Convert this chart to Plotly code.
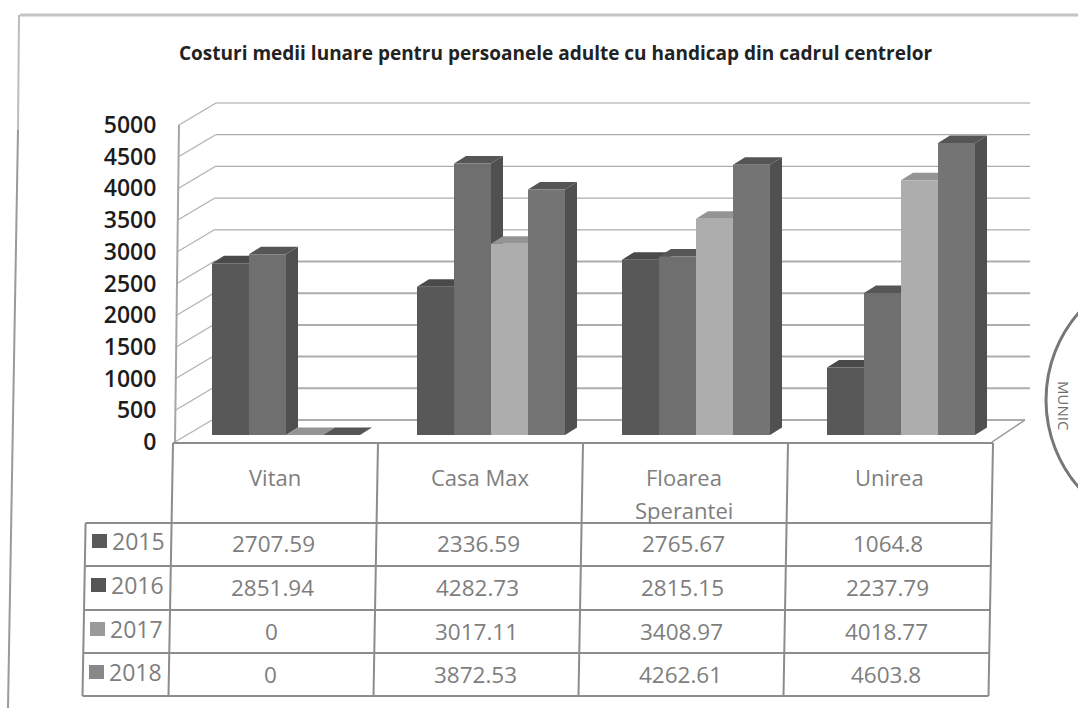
import plotly.graph_objects as go

title = "Costuri medii lunare pentru persoanele adulte cu handicap din cadrul centrelor"
categories = ["Vitan", "Casa Max", "Floarea Sperantei", "Unirea"]
header_lines = [["Vitan"], ["Casa Max"], ["Floarea", "Sperantei"], ["Unirea"]]
years = ["2015", "2016", "2017", "2018"]
v2015 = [2707.59, 2336.59, 2765.67, 1064.8]
v2016 = [2851.94, 4282.73, 2815.15, 2237.79]
v2017 = [0, 3017.11, 3408.97, 4018.77]
v2018 = [0, 3872.53, 4262.61, 4603.8]
cell_text = [["2707.59", "2336.59", "2765.67", "1064.8"],
             ["2851.94", "4282.73", "2815.15", "2237.79"],
             ["0", "3017.11", "3408.97", "4018.77"],
             ["0", "3872.53", "4262.61", "4603.8"]]
series = [v2015, v2016, v2017, v2018]
ticks = [0, 500, 1000, 1500, 2000, 2500, 3000, 3500, 4000, 4500, 5000]

front_col = ["#585858", "#6f6f6f", "#adadad", "#747474"]
top_col = ["#4a4a4a", "#565656", "#949494", "#555555"]
side_col = "#505050"

W, H = 1078, 708
L, R, T, B = 172, 1030, 95, 442
CAT = 205.0
PX_Y = 5000 / 317.0
ymax = (B - T) * PX_Y
xmax = (R - L) / CAT

def dx(px):
    return px / CAT
def dy(px):
    return px * PX_Y
def xp(px):
    return (px - L) / (R - L)
def yp(py):
    return (B - py) / (B - T)

shapes = []
ann = []

def line(x0, y0, x1, y1, color="#8f8f8f", width=2):
    shapes.append(dict(type="line", xref="paper", yref="paper", x0=xp(x0), y0=yp(y0),
                       x1=xp(x1), y1=yp(y1), line=dict(color=color, width=width), layer="above"))

def text(x, y, s, size=22.5, color="#7e7e7e", bold=False, angle=0):
    ann.append(dict(xref="paper", yref="paper", x=xp(x), y=yp(y), text=f"<b>{s}</b>" if bold else s,
                    showarrow=False, xanchor="center", yanchor="middle", textangle=angle,
                    font=dict(family="Open Sans", size=size, color=color)))

# walls and gridlines, in axis coordinates
BACK_DX = dx(37)
BACK_DY = dy(22)
TILT = dx(4) / 5000
for v in ticks:
    x0 = dx(3) + v * TILT
    col = "#cfcfcf" if v == 5000 else "#adadad"
    w = 2 if v in (5000, 0, 500, 1000, 1500, 2000, 2500) else 1.2
    shapes.append(dict(type="line", xref="x", yref="y", x0=x0, y0=v, x1=x0 + BACK_DX, y1=v + BACK_DY,
                       line=dict(color="#b0b0b0", width=1.2), layer="below"))
    xr = dx(1025 - L) if v == 0 else xmax
    shapes.append(dict(type="line", xref="x", yref="y", x0=x0 + BACK_DX, y0=v + BACK_DY, x1=xr, y1=v + BACK_DY,
                       line=dict(color=col, width=w), layer="below"))
shapes.append(dict(type="line", xref="x", yref="y", x0=dx(3), y0=0, x1=dx(3) + 5000 * TILT, y1=5000,
                   line=dict(color="#a5a5a5", width=2), layer="below"))
shapes.append(dict(type="line", xref="x", yref="y", x0=dx(992 - L), y0=0, x1=dx(1025 - L), y1=BACK_DY,
                   line=dict(color="#999999", width=1.5), layer="below"))

# bars: front faces as real bars, top and side faces derived from the same values
BAR_W = dx(37)
START = dx(40)
BASE = dy(7)
DEPTH_X = dx(12)
DEPTH_Y = dy(7.5)
traces = []
for s, (vals, yr) in enumerate(zip(series, years)):
    xs = [c + START + (s + 0.5) * BAR_W for c in range(len(categories))]
    traces.append(go.Bar(x=xs, y=vals, base=[BASE] * len(vals), width=BAR_W, name=yr,
                         marker=dict(color=front_col[s], line=dict(width=0))))
    for xc, v in zip(xs, vals):
        xl, xr = xc - BAR_W / 2, xc + BAR_W / 2
        yb, yt = BASE, BASE + v
        top = f"M{xl},{yt} L{xr},{yt} L{xr + DEPTH_X},{yt + DEPTH_Y} L{xl + DEPTH_X},{yt + DEPTH_Y} Z"
        side = f"M{xr},{yb} L{xr + DEPTH_X},{yb + DEPTH_Y} L{xr + DEPTH_X},{yt + DEPTH_Y} L{xr},{yt} Z"
        shapes.append(dict(type="path", xref="x", yref="y", path=side, fillcolor=side_col,
                           line=dict(width=0), layer="below"))
        shapes.append(dict(type="path", xref="x", yref="y", path=top, fillcolor=top_col[s],
                           line=dict(width=0), layer="below"))

# data table
tline = "#8c8c8c"
rows_y = [443, 523, 566, 610, 653, 696]
def vx(base_top, y):
    return base_top - (y - 443) * 4.5 / 253
for base in [173, 378, 583, 788, 993]:
    line(vx(base, 443), 443, vx(base, 696), 696, tline, 2)
line(vx(87, 523), 523, vx(87, 696), 696, tline, 2)
line(173, 443, 993, 443, tline, 2)
for y in rows_y[1:]:
    line(vx(87, y), y, vx(993, y), y, tline, 2)

centers = [275, 480, 684, 889]
for cx, lines in zip(centers, header_lines):
    for i, t in enumerate(lines):
        text(cx, 477 + i * 33, t, size=22)
row_cy = [543, 587, 631, 674]
for r, cy in enumerate(row_cy):
    shift = -(cy - 543) * 2.5 / 131
    for c, cx in enumerate([273, 478, 683, 888]):
        text(cx + shift, cy, cell_text[r][c])
    text(138 + shift, cy - 2, years[r], size=23)
    kx = 99.5 + shift * 1.2
    shapes.append(dict(type="rect", xref="paper", yref="paper", x0=xp(kx - 7.5), x1=xp(kx + 7.5),
                       y0=yp(cy + 5), y1=yp(cy - 9), fillcolor=["#5a5a5a", "#555555", "#9a9a9a", "#888888"][r],
                       line=dict(width=0), layer="above"))

# title and scan artefacts
text(556, 53, title, size=19, color="#222222", bold=True)
line(20, 15, 1078, 15, "#c4c4c4", 3)
line(19, 15, 18, 130, "#bdbdbd", 2)
line(18, 130, 8, 708, "#9a9a9a", 2)
shapes.append(dict(type="circle", xref="paper", yref="paper", x0=xp(1046), x1=xp(1312),
                   y0=yp(533), y1=yp(267), line=dict(color="#777777", width=3), fillcolor="rgba(0,0,0,0)", layer="above"))
text(1064, 405, "MUNIC", size=15, color="#6e6e6e", angle=90)

fig = go.Figure(traces)
fig.update_layout(
    width=W, height=H, showlegend=False, autosize=False,
    margin=dict(l=L, r=W - R, t=T, b=H - B, pad=0),
    plot_bgcolor="white", paper_bgcolor="white", barmode="overlay",
    shapes=shapes, annotations=ann,
    xaxis=dict(range=[0, xmax], visible=False, fixedrange=True),
    yaxis=dict(range=[0, ymax], tickmode="array", tickvals=ticks, ticktext=[str(t) for t in ticks],
               showgrid=False, zeroline=False, showline=False, ticks="outside", ticklen=10,
               tickcolor="rgba(0,0,0,0)", tickfont=dict(family="Open Sans", size=23, color="#1c1c1c", weight=600)),
)
fig.write_html("out.html", post_script="document.body.style.margin='0';document.body.style.overflow='hidden';",
               config=dict(displayModeBar=False))
